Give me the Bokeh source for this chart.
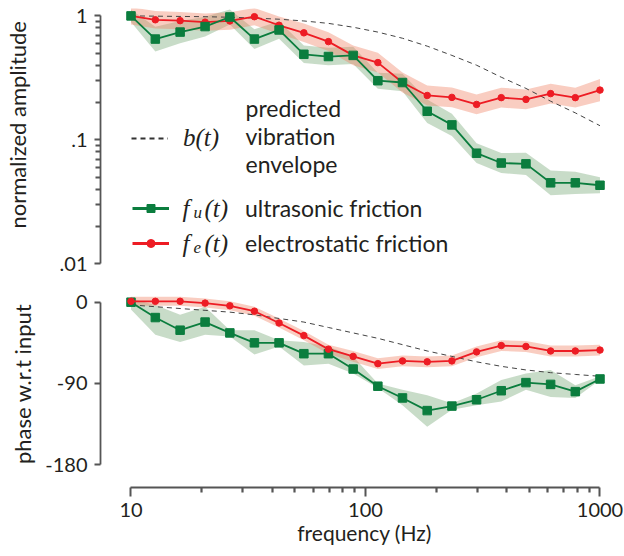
import math
from bokeh.plotting import figure
from bokeh.models import Range1d, FixedTicker, Legend, LegendItem, Label
from bokeh.layouts import column
from bokeh.embed import file_html
from bokeh.resources import INLINE

# ---------------- data ----------------
freq = [10.0, 12.7, 16.2, 20.7, 26.4, 33.6, 42.8, 54.6, 69.5, 88.6,
        112.9, 143.8, 183.3, 233.6, 297.6, 379.3, 483.3, 615.8, 784.8, 1000.0]

# predicted vibration envelope b(t)
b_amp = [1.0, 0.995, 0.99, 0.985, 0.975, 0.96, 0.94, 0.91, 0.87, 0.81,
         0.74, 0.66, 0.57, 0.48, 0.40, 0.32, 0.26, 0.205, 0.165, 0.13]
b_phase = [-3, -5, -7, -9, -11, -14, -18, -22, -28, -34,
           -40, -47, -54, -60, -66, -71, -75, -78, -80, -82]

# ultrasonic friction f_u(t)
amp_u = [1.0, 0.65, 0.74, 0.82, 0.98, 0.65, 0.77, 0.49, 0.47, 0.48,
         0.30, 0.29, 0.17, 0.132, 0.078, 0.065, 0.064, 0.045, 0.045, 0.043]
amp_u_err = [0.05, 0.10, 0.09, 0.08, 0.06, 0.08, 0.07, 0.07, 0.07, 0.07,
             0.065, 0.07, 0.095, 0.09, 0.08, 0.08, 0.09, 0.10, 0.09, 0.065]
phase_u = [0, -17, -31, -22, -34, -45, -45, -57, -57, -74,
           -93, -106, -120, -115, -108, -98, -89, -91, -99, -85]
phase_u_lo = [-8, -36, -44, -36, -38, -58, -49, -70, -68, -79,
              -95, -114, -138, -119, -114, -110, -97, -105, -106, -86]
phase_u_hi = [4, -3, -14, -5, -31, -31, -42, -44, -49, -60,
              -90, -97, -103, -112, -101, -86, -79, -75, -92, -82]

# electrostatic friction f_e(t)
amp_e = [1.0, 0.93, 0.915, 0.89, 0.91, 0.985, 0.84, 0.73, 0.62, 0.48,
         0.42, 0.29, 0.228, 0.22, 0.193, 0.219, 0.212, 0.236, 0.219, 0.252]
amp_e_err = [0.07, 0.07, 0.07, 0.07, 0.07, 0.07, 0.07, 0.075, 0.075, 0.08,
             0.08, 0.08, 0.08, 0.08, 0.08, 0.08, 0.08, 0.08, 0.08, 0.09]
phase_e = [1, 1, 1, -1, -4, -10, -23, -37, -52, -60,
           -68, -65, -66, -65, -55, -48, -49, -54, -54, -53]
phase_e_err = [5, 5, 5, 5, 5, 5, 5, 5, 5, 6,
               6, 6, 6, 6, 6, 6, 6, 6, 6, 6]

amp_ticks = [0.01, 0.1, 1]
amp_tick_labels = [".01", ".1", "1"]
phase_ticks = [-180, -90, 0]
phase_tick_labels = ["-180", "-90", "0"]
freq_ticks = [10, 100, 1000]
freq_tick_labels = ["10", "100", "1000"]

# ---------------- style ----------------
SANS = "Lato"
SERIF = "Liberation Serif"
AX = "#555555"
TXT = "#231f20"
GREEN = "#0b7d3e"
RED = "#ed1c24"
GBAND = "#82af82"
RBAND = "#f08264"
DASH = "#444444"
NB = "\u00a0"
NAN = float("nan")

x_range = Range1d(7.413, 1130.6)


def base_fig(**kw):
    p = figure(width=624, x_range=x_range, output_backend="svg",
               toolbar_location=None, min_border_left=100, min_border_right=12,
               **kw)
    p.outline_line_color = None
    p.xgrid.visible = False
    p.ygrid.visible = False
    p.background_fill_color = "white"
    p.border_fill_color = "white"
    return p


def style_axis(ax, size="20px", label_size="22px"):
    ax.axis_line_color = AX
    ax.axis_line_width = 1.8
    ax.major_tick_line_color = AX
    ax.minor_tick_line_color = AX
    ax.major_tick_line_width = 1.8
    ax.minor_tick_line_width = 1.8
    ax.major_tick_in = 0
    ax.minor_tick_in = 0
    ax.major_label_text_font = SANS
    ax.major_label_text_font_size = size
    ax.major_label_text_color = TXT
    ax.axis_label_text_font = SANS
    ax.axis_label_text_font_size = label_size
    ax.axis_label_text_font_style = "normal"
    ax.axis_label_text_color = TXT


# ---------------- top: amplitude ----------------
p1 = base_fig(height=280, x_axis_type="log", y_axis_type="log",
              y_range=Range1d(0.00733, 1.147), x_axis_location=None,
              min_border_top=8, min_border_bottom=0)

minor_amp = [k * 10.0 ** e for e in (-2, -1) for k in range(2, 10)]
ya = p1.yaxis[0]
ya.ticker = FixedTicker(ticks=amp_ticks, minor_ticks=minor_amp)
ya.major_label_overrides = dict(zip(amp_ticks, amp_tick_labels))
ya.bounds = (amp_ticks[0], amp_ticks[-1])
style_axis(ya)
ya.major_tick_out = 6
ya.minor_tick_out = 5
ya.major_label_standoff = 7
ya.axis_label = NB * 7 + "normalized amplitude"
ya.axis_label_standoff = 26

u_lo = [v * 10 ** (-e) for v, e in zip(amp_u, amp_u_err)]
u_hi = [v * 10 ** (e) for v, e in zip(amp_u, amp_u_err)]
e_lo = [v * 10 ** (-e) for v, e in zip(amp_e, amp_e_err)]
e_hi = [v * 10 ** (e) for v, e in zip(amp_e, amp_e_err)]

p1.varea(x=freq, y1=u_lo, y2=u_hi, fill_color=GBAND, fill_alpha=0.44)
p1.varea(x=freq, y1=e_lo, y2=e_hi, fill_color=RBAND, fill_alpha=0.40)
p1.line(freq, b_amp, line_color=DASH, line_width=1, line_dash="5 4")
p1.line(freq, amp_e, line_color=RED, line_width=1.8)
p1.scatter(freq, amp_e, marker="circle", size=6.5, fill_color=RED, line_color=RED)
p1.line(freq, amp_u, line_color=GREEN, line_width=1.8)
p1.scatter(freq, amp_u, marker="square", size=8.5, fill_color=GREEN, line_color=GREEN)

# legend sample renderers (a single NaN point: nothing in the plot, only legend keys)
lb = p1.line(x=[NAN], y=[NAN], line_color="#333333", line_width=2, line_dash="5 4")
lgu_l = p1.line(x=[NAN], y=[NAN], line_color=GREEN, line_width=3)
lgu_m = p1.scatter(x=[NAN], y=[NAN], marker="square", fill_color=GREEN, line_color=GREEN)
lge_l = p1.line(x=[NAN], y=[NAN], line_color=RED, line_width=3)
lge_m = p1.scatter(x=[NAN], y=[NAN], marker="circle", fill_color=RED, line_color=RED)

common = dict(orientation="vertical", glyph_width=37, glyph_height=20,
              label_height=20, label_width=10, padding=0, margin=0, spacing=7,
              border_line_alpha=0, background_fill_alpha=0,
              label_text_color=TXT)

leg1 = Legend(items=[LegendItem(label="b(t)", renderers=[lb])], location=(31, 128),
              label_text_font=SERIF, label_text_font_style="italic",
              label_text_font_size="25px", label_standoff=15, **common)
leg2 = Legend(items=[LegendItem(label="ultrasonic friction", renderers=[lgu_l, lgu_m]),
                     LegendItem(label="electrostatic friction", renderers=[lge_l, lge_m])],
              location=(32, 23), label_text_font=SANS, label_text_font_size="23px",
              label_standoff=76, **common)
p1.add_layout(leg1)
p1.add_layout(leg2)


def txt(p, x, y, s, font=SANS, size="23px", style="normal"):
    p.add_layout(Label(x=x, y=y, x_units="screen", y_units="screen", text=s,
                       text_font=font, text_font_size=size, text_font_style=style,
                       text_color=TXT, text_align="left", text_baseline="alphabetic"))


txt(p1, 145, 173, "predicted")
txt(p1, 145, 144.5, "vibration")
txt(p1, 145, 116.5, "envelope")

txt(p1, 82, 72, "f", font=SERIF, size="25px", style="italic")
txt(p1, 93, 68, "u", font=SERIF, size="17px", style="italic")
txt(p1, 104, 72, "(t)", font=SERIF, size="25px", style="italic")

txt(p1, 82, 37, "f", font=SERIF, size="25px", style="italic")
txt(p1, 93, 33, "e", font=SERIF, size="17px", style="italic")
txt(p1, 104, 37, "(t)", font=SERIF, size="25px", style="italic")

# ---------------- bottom: phase ----------------
p2 = base_fig(height=276, x_axis_type="log",
              y_range=Range1d(-205.13, 24.02), min_border_top=0, min_border_bottom=69)

xa = p2.xaxis[0]
xa.ticker = FixedTicker(ticks=freq_ticks,
                        minor_ticks=[k * 10.0 ** e for e in (1, 2) for k in range(2, 10)])
xa.major_label_overrides = dict(zip(freq_ticks, freq_tick_labels))
xa.bounds = (freq_ticks[0], freq_ticks[-1])
style_axis(xa, label_size="21px")
xa.axis_line_width = 2
xa.major_tick_line_width = 2
xa.minor_tick_line_width = 2.2
xa.major_tick_out = 9
xa.minor_tick_out = 5
xa.major_label_standoff = 6
xa.axis_label = NB * 3 + "frequency (Hz)"
xa.axis_label_standoff = 0

yb = p2.yaxis[0]
yb.ticker = FixedTicker(ticks=phase_ticks, minor_ticks=[])
yb.major_label_overrides = dict(zip(phase_ticks, phase_tick_labels))
yb.bounds = (phase_ticks[0], phase_ticks[-1])
style_axis(yb)
yb.major_tick_out = 6
yb.minor_tick_out = 0
yb.major_label_standoff = 7
yb.axis_label = "phase w.r.t input"
yb.axis_label_standoff = 6

pe_lo = [v - e for v, e in zip(phase_e, phase_e_err)]
pe_hi = [v + e for v, e in zip(phase_e, phase_e_err)]

p2.varea(x=freq, y1=phase_u_lo, y2=phase_u_hi, fill_color=GBAND, fill_alpha=0.44)
p2.varea(x=freq, y1=pe_lo, y2=pe_hi, fill_color=RBAND, fill_alpha=0.40)
p2.line(freq, b_phase, line_color=DASH, line_width=1, line_dash="5 4")
p2.line(freq, phase_u, line_color=GREEN, line_width=1.8)
p2.scatter(freq, phase_u, marker="square", size=8.5, fill_color=GREEN, line_color=GREEN)
p2.line(freq, phase_e, line_color=RED, line_width=1.8)
p2.scatter(freq, phase_e, marker="circle", size=6.5, fill_color=RED, line_color=RED)

layout = column(p1, p2, spacing=0)
open("out.html", "w").write(file_html(layout, INLINE, title="amplitude and phase"))
